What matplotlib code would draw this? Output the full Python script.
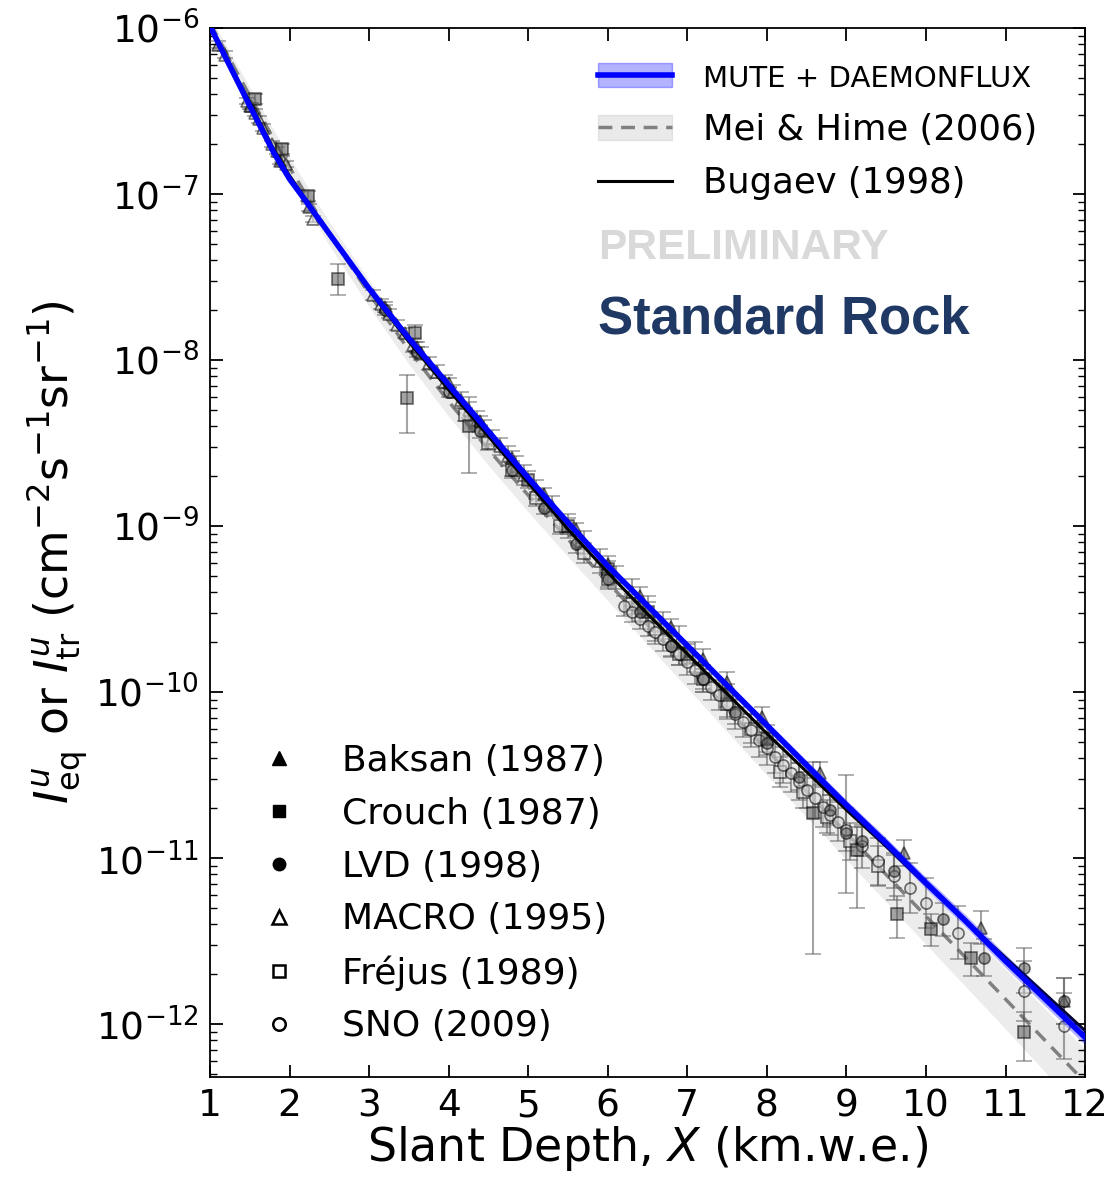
import numpy as np
import matplotlib
matplotlib.use("Agg")
import matplotlib.pyplot as plt
from matplotlib.lines import Line2D
from matplotlib.patches import Patch
from matplotlib.ticker import LogLocator, NullFormatter

# ---------------- curves (log10 intensity) ----------------
curve_x = [1.0, 1.5, 1.8, 2.0, 2.2, 2.5, 3.0, 3.5, 4.0, 4.5, 5.0, 5.5, 6.0, 6.5,
           7.0, 7.5, 8.0, 8.5, 9.0, 9.5, 10.0, 10.5, 11.0, 11.5, 12.0]
mute_log = [-5.99, -6.47, -6.75, -6.91, -7.04, -7.24, -7.57, -7.87, -8.15, -8.43, -8.71, -8.98, -9.24, -9.48,
            -9.72, -9.96, -10.20, -10.44, -10.68, -10.91, -11.15, -11.38, -11.62, -11.85, -12.08]
mute_halfwidth = [0.015, 0.015, 0.015, 0.015, 0.015, 0.015, 0.015, 0.015, 0.015, 0.015, 0.015, 0.017, 0.018, 0.019,
                  0.02, 0.022, 0.025, 0.027, 0.03, 0.032, 0.035, 0.037, 0.04, 0.042, 0.045]
bugaev_log = [-5.99, -6.45, -6.73, -6.89, -7.03, -7.24, -7.58, -7.89, -8.18, -8.46, -8.74, -9.02, -9.28, -9.53,
              -9.77, -10.01, -10.25, -10.48, -10.71, -10.93, -11.16, -11.38, -11.60, -11.82, -12.04]
meihime_log = [-5.97, -6.41, -6.67, -6.84, -7.00, -7.24, -7.60, -7.94, -8.25, -8.54, -8.815, -9.08, -9.34, -9.594,
               -9.846, -10.10, -10.35, -10.60, -10.85, -11.10, -11.35, -11.60, -11.85, -12.10, -12.35]
meihime_halfwidth = [0.04, 0.05, 0.055, 0.06, 0.064, 0.07, 0.08, 0.085, 0.09, 0.095, 0.10, 0.105, 0.11, 0.12,
                     0.13, 0.14, 0.15, 0.155, 0.16, 0.165, 0.17, 0.175, 0.18, 0.19, 0.20]

# ---------------- data sets: x (km.w.e.), log10 I, error up/down (dex) ----------------
baksan_x = [1.10, 1.50, 1.88, 2.25, 3.20, 3.60, 4.00, 4.40, 4.80, 5.20, 5.60, 6.00, 6.40,
            6.80, 7.20, 7.50, 7.94, 8.67, 9.72, 10.69, 11.73]
baksan_log = [-6.10, -6.47, -6.80, -7.08, -7.68, -7.92, -8.14, -8.37, -8.59, -8.81, -9.02, -9.23, -9.42,
              -9.61, -9.80, -9.94, -10.15, -10.49, -10.97, -11.42, -11.86]
baksan_err = [0.02, 0.02, 0.02, 0.02, 0.03, 0.03, 0.03, 0.03, 0.04, 0.04, 0.04, 0.05, 0.05,
              0.05, 0.06, 0.06, 0.06, 0.07, 0.08, 0.10, 0.14]

crouch_x = [1.57, 1.90, 2.23, 2.61, 3.47, 3.58, 4.25, 5.00, 5.50, 6.00, 6.50, 7.00, 7.50,
            8.00, 8.58, 9.13, 9.64, 10.06, 10.56, 11.23]
crouch_log = [-6.43, -6.73, -7.01, -7.51, -8.23, -7.84, -8.40, -8.72, -9.00, -9.26, -9.52, -9.77, -10.02,
              -10.28, -10.73, -10.95, -11.34, -11.43, -11.60, -12.05]
crouch_err_up = [0.03, 0.03, 0.03, 0.09, 0.14, 0.05, 0.18, 0.05, 0.05, 0.05, 0.06, 0.06, 0.07,
                 0.08, 0.31, 0.14, 0.11, 0.09, 0.09, 0.12]
crouch_err_dn = [0.03, 0.03, 0.03, 0.10, 0.21, 0.05, 0.28, 0.05, 0.05, 0.05, 0.06, 0.06, 0.07,
                 0.08, 0.85, 0.35, 0.14, 0.10, 0.11, 0.17]

lvd_x = [3.20, 3.60, 4.00, 4.40, 4.80, 5.20, 5.60, 6.00, 6.40, 6.80, 7.20, 7.60, 8.00, 8.40,
         8.80, 8.99, 9.20, 9.60, 10.22, 10.73, 11.23, 11.73]
lvd_log = [-7.70, -7.95, -8.19, -8.43, -8.66, -8.89, -9.11, -9.32, -9.52, -9.72, -9.92, -10.12, -10.31, -10.51,
           -10.71, -10.85, -10.90, -11.08, -11.37, -11.60, -11.66, -11.86]
lvd_err_up = [0.03, 0.03, 0.03, 0.04, 0.04, 0.04, 0.05, 0.05, 0.05, 0.06, 0.06, 0.07, 0.07, 0.08,
              0.09, 0.35, 0.09, 0.10, 0.10, 0.11, 0.12, 0.14]
lvd_err_dn = [0.03, 0.03, 0.03, 0.04, 0.04, 0.04, 0.05, 0.05, 0.05, 0.06, 0.06, 0.07, 0.07, 0.08,
              0.09, 0.36, 0.09, 0.10, 0.10, 0.11, 0.15, 0.14]

macro_x = [1.19, 1.46, 1.52, 1.56, 1.62, 1.66, 1.78, 1.84, 1.90, 1.95, 2.29, 3.05, 3.15, 3.25,
           3.35, 3.45, 3.55, 3.65, 3.75, 3.85, 3.95, 4.05, 4.15, 4.25, 4.35, 4.45, 4.55, 4.65,
           4.75, 4.85, 4.95, 5.10, 5.30, 5.50, 5.70, 5.90, 6.10, 6.30, 6.50, 6.70, 6.90, 7.10]
macro_log = [-6.16, -6.44, -6.47, -6.51, -6.55, -6.60, -6.70, -6.74, -6.79, -6.82, -7.15, -7.61, -7.66, -7.72,
             -7.79, -7.84, -7.91, -7.96, -8.02, -8.07, -8.13, -8.19, -8.24, -8.30, -8.36, -8.41, -8.47, -8.52,
             -8.58, -8.64, -8.69, -8.78, -8.88, -9.00, -9.10, -9.21, -9.31, -9.40, -9.50, -9.60, -9.69, -9.79]
macro_err = [0.02, 0.02, 0.02, 0.02, 0.02, 0.02, 0.02, 0.02, 0.02, 0.02, 0.02, 0.03, 0.03, 0.03,
             0.03, 0.03, 0.04, 0.04, 0.04, 0.04, 0.04, 0.04, 0.05, 0.05, 0.05, 0.05, 0.05, 0.05,
             0.06, 0.06, 0.06, 0.06, 0.06, 0.07, 0.07, 0.07, 0.07, 0.08, 0.08, 0.08, 0.09, 0.09]

frejus_x = [4.20, 4.50, 4.80, 5.10, 5.40, 5.70, 6.00, 6.30, 6.60, 6.90, 7.20, 7.50, 7.80,
            8.17, 8.45, 8.75, 9.05, 9.40]
frejus_log = [-8.33, -8.50, -8.66, -8.83, -9.00, -9.16, -9.32, -9.47, -9.62, -9.77, -9.92, -10.07, -10.22,
              -10.48, -10.60, -10.75, -10.90, -11.05]
frejus_err = [0.04, 0.04, 0.05, 0.05, 0.05, 0.06, 0.06, 0.06, 0.07, 0.07, 0.08, 0.08, 0.09,
              0.09, 0.10, 0.10, 0.11, 0.12]

sno_x = [6.2, 6.3, 6.4, 6.5, 6.6, 6.7, 6.8, 6.9, 7.0, 7.1, 7.2, 7.3, 7.4, 7.5, 7.6, 7.7, 7.8,
         7.9, 8.0, 8.1, 8.2, 8.3, 8.4, 8.5, 8.6, 8.7, 8.8, 8.9, 9.0, 9.2, 9.4, 9.6, 9.8, 10.0,
         10.4, 11.23, 11.73]
sno_log = [-9.48, -9.52, -9.56, -9.60, -9.64, -9.68, -9.72, -9.77, -9.82, -9.87, -9.92, -9.97, -10.02,
           -10.07, -10.13, -10.18, -10.23, -10.29, -10.34, -10.39, -10.44, -10.49, -10.54, -10.59,
           -10.64, -10.69, -10.74, -10.78, -10.83, -10.93, -11.02, -11.11, -11.18, -11.27, -11.45,
           -11.80, -12.01]
sno_err = [0.06, 0.06, 0.06, 0.06, 0.07, 0.07, 0.07, 0.07, 0.08, 0.08, 0.08, 0.08, 0.09, 0.09,
           0.09, 0.09, 0.10, 0.10, 0.10, 0.10, 0.11, 0.11, 0.11, 0.11, 0.12, 0.12, 0.12, 0.12,
           0.13, 0.13, 0.14, 0.14, 0.15, 0.15, 0.16, 0.18, 0.20]

tick_x = list(range(1, 13))
tick_y = [1e-12, 1e-11, 1e-10, 1e-9, 1e-8, 1e-7, 1e-6]
tick_y_labels = [r'$10^{-12}$', r'$10^{-11}$', r'$10^{-10}$', r'$10^{-9}$', r'$10^{-8}$', r'$10^{-7}$', r'$10^{-6}$']

# ---------------- figure ----------------
plt.rcParams['font.family'] = ['DejaVu Sans']
plt.rcParams['mathtext.fontset'] = 'dejavusans'
fig = plt.figure(figsize=(11.09, 11.80), dpi=100)
ax = fig.add_axes([0.1894, 0.0873, 0.789, 0.889])
ax.set_yscale('log')

cx = np.array(curve_x)
def pw(a):
    return 10.0 ** np.asarray(a, dtype=float)

mh = np.array(meihime_log); mhw = np.array(meihime_halfwidth)
ax.fill_between(cx, pw(mh - mhw), pw(mh + mhw), color='0.6', alpha=0.18, lw=0, zorder=1)
ax.plot(cx, pw(mh), ls=(0, (4, 2.5)), color='0.5', lw=2.5, zorder=2)


def draw(xs, logs, eu, ed, marker, filled, ms):
    y = pw(logs)
    lo = y - pw(np.array(logs) - np.array(ed))
    hi = pw(np.array(logs) + np.array(eu)) - y
    mfc = '0.35' if filled else '0.85'
    ax.errorbar(xs, y, yerr=[lo, hi], fmt=marker, ms=ms, mfc=mfc, mec='black', mew=1.2,
                ecolor='0.35', elinewidth=1.5, capsize=6, capthick=1.5, alpha=0.55, zorder=3)

draw(macro_x, macro_log, macro_err, macro_err, '^', False, 8)
draw(frejus_x, frejus_log, frejus_err, frejus_err, 's', False, 8)
draw(sno_x, sno_log, sno_err, sno_err, 'o', False, 8)
draw(baksan_x, baksan_log, baksan_err, baksan_err, '^', True, 8)
draw(crouch_x, crouch_log, crouch_err_up, crouch_err_dn, 's', True, 8)
draw(lvd_x, lvd_log, lvd_err_up, lvd_err_dn, 'o', True, 8)

ax.plot(cx, pw(bugaev_log), color='black', lw=2.2, zorder=4)
ml = np.array(mute_log); mw = np.array(mute_halfwidth)
ax.fill_between(cx, pw(ml - mw), pw(ml + mw), color='blue', alpha=0.3, lw=0, zorder=5)
ax.plot(cx, pw(ml), color='blue', lw=4, zorder=6)

ax.set_xlim(1, 12)
ax.set_ylim(4.8e-13, 1e-6)
ax.set_xticks(tick_x)
ax.set_xticklabels([str(t) for t in tick_x])
ax.set_yticks(tick_y)
ax.set_yticklabels(tick_y_labels)
ax.yaxis.set_minor_locator(LogLocator(base=10, subs=np.arange(2, 10), numticks=20))
ax.yaxis.set_minor_formatter(NullFormatter())
ax.tick_params(axis='both', which='both', direction='in', top=True, right=True)
ax.tick_params(axis='both', which='major', length=9, width=1.3, labelsize=27, pad=8)
ax.tick_params(axis='y', which='minor', length=5, width=1.0)
ax.tick_params(axis='x', which='minor', bottom=False, top=False)
for s in ax.spines.values():
    s.set_linewidth(1.3)

ax.set_xlabel(r'Slant Depth, $X$ (km.w.e.)', fontsize=33, labelpad=0)
ax.set_ylabel(r'$I^{u}_{\rm eq}$ or $I^{u}_{\rm tr}$ (cm$^{-2}$s$^{-1}$sr$^{-1}$)', fontsize=33, labelpad=4)

# legend for models
h1 = (Patch(facecolor=(0, 0, 1, 0.3), edgecolor=(0, 0, 1, 0.3)), Line2D([], [], color='blue', lw=4))
h2 = (Patch(facecolor=(0.6, 0.6, 0.6, 0.2), edgecolor=(0.6, 0.6, 0.6, 0.2)),
      Line2D([], [], color='0.5', lw=2.5, ls=(0, (4, 2.5))))
h3 = Line2D([], [], color='black', lw=2.2)
leg1 = ax.legend([h1, h2, h3], ['MUTE + DAEMONFLUX', 'Mei & Hime (2006)', 'Bugaev (1998)'],
                 loc='upper left', bbox_to_anchor=(0.443, 0.967), frameon=False, fontsize=25.5,
                 handlelength=2.1, handletextpad=0.88, labelspacing=0.55, borderpad=0, borderaxespad=0)
leg1.get_texts()[0].set_fontsize(21)
ax.add_artist(leg1)

# legend for data
hd = [Line2D([], [], marker='^', ls='none', color='black', ms=10),
      Line2D([], [], marker='s', ls='none', color='black', ms=9),
      Line2D([], [], marker='o', ls='none', color='black', ms=9),
      Line2D([], [], marker='^', ls='none', mfc='white', mec='black', mew=1.8, ms=10),
      Line2D([], [], marker='s', ls='none', mfc='white', mec='black', mew=1.8, ms=9),
      Line2D([], [], marker='o', ls='none', mfc='white', mec='black', mew=1.8, ms=9)]
ax.legend(hd, ['Baksan (1987)', 'Crouch (1987)', 'LVD (1998)', 'MACRO (1995)', 'Fréjus (1989)', 'SNO (2009)'],
          loc='lower left', bbox_to_anchor=(0.058, 0.032), frameon=False, fontsize=26,
          handlelength=1.0, handletextpad=1.25, labelspacing=0.52, borderpad=0, borderaxespad=0)

ax.text(0.443, 0.790, 'PRELIMINARY', transform=ax.transAxes, fontsize=30.5, fontweight='bold',
        color='#d9d9d9', family=['Liberation Sans', 'DejaVu Sans'], va='center', ha='left')
ax.text(0.443, 0.722, 'Standard Rock', transform=ax.transAxes, fontsize=38, fontweight='bold',
        color='#1f3864', family=['Liberation Sans', 'DejaVu Sans'], va='center', ha='left')

fig.savefig('out.png', dpi=100)
